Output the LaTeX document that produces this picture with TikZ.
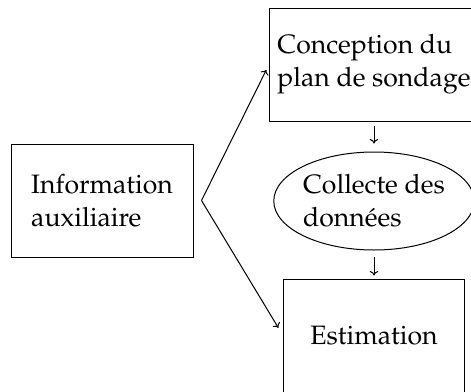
\documentclass[tikz,border=0pt]{standalone}
\usepackage[T1]{fontenc}
\usepackage{mathpazo}
\usetikzlibrary{shapes.geometric,arrows.meta}
\tikzset{
  boite/.style={draw, rectangle, line width=1, inner sep=0, minimum height=113, align=left},
  bulle/.style={draw, ellipse, line width=1, inner sep=0, minimum width=192, minimum height=98, align=left},
  fleche/.style={-{To[length=4.5, width=8.5]}, line width=1},
}

\begin{document}
\begin{tikzpicture}[x=1pt, y=-1pt, every node/.style={font=\fontsize{26.6}{33}\selectfont}]
		%%%%% cadre %%%%%
		\useasboundingbox (0,0) rectangle (471,391);
		
		\node[boite, minimum width=182] (info) at (102,200.5) {Information\\auxiliaire};
		\node[boite, minimum width=209] (conception) at (374,64.5) {Conception du\\plan de sondage};
		\node[bulle] (collecte) at (374,201) {Collecte des\\donn\'ees};
		\node[boite, minimum width=181] (estimation) at (374,335.5) {Estimation};
		
		\coordinate (fourche) at ([xshift=8]info.east);
		\draw[fleche, shorten >=6] (fourche) -- (conception.west);
		\draw[fleche, shorten >=9] (fourche) -- (estimation.west);
		
		\draw[fleche, shorten <=4, shorten >=8] (conception.south) -- (collecte.north);
		\draw[fleche, shorten <=6, shorten >=3] (collecte.south) -- (estimation.north);
		%%%%% fin %%%%%
	\end{tikzpicture}
\end{document}
